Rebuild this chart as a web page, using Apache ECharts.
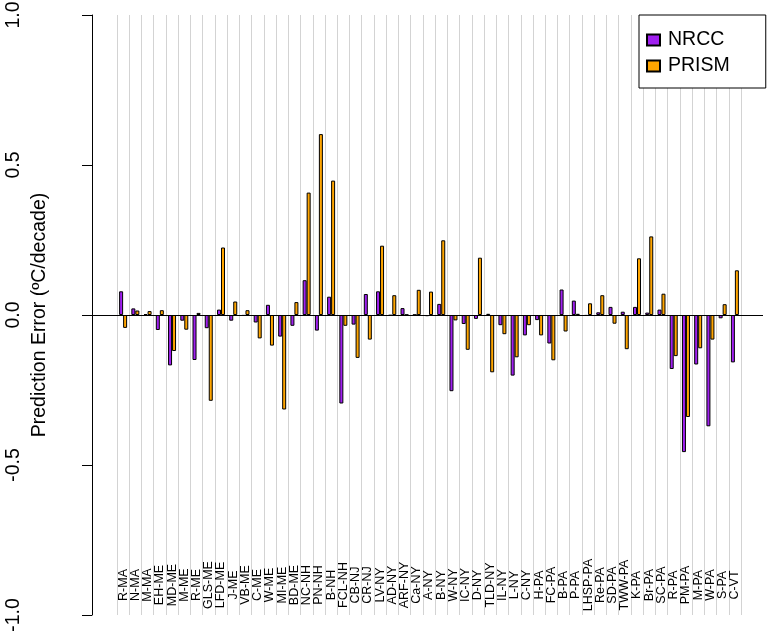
<!DOCTYPE html>
<html>
<head>
<meta charset="utf-8">
<script src="https://cdn.jsdelivr.net/npm/echarts@6/dist/echarts.min.js"></script>
<style>
html,body{margin:0;padding:0;background:#fff;}
#chart{width:768px;height:636px;}
</style>
</head>
<body>
<div id="chart"></div>
<script>
const categories = ["R-MA","N-MA","M-MA","EH-ME","MD-ME","M-ME","R-ME","GLS-ME","LFD-ME","J-ME","VB-ME","C-ME","W-ME","MI-ME","BD-ME","NC-NH","PN-NH","B-NH","FCL-NH","CB-NJ","CR-NJ","LV-NY","AD-NY","ARF-NY","Ca-NY","A-NY","B-NY","W-NY","IC-NY","D-NY","TLD-NY","IL-NY","L-NY","C-NY","H-PA","FC-PA","B-PA","P-PA","LHSP-PA","Re-PA","SD-PA","TWW-PA","K-PA","Br-PA","SC-PA","R-PA","PM-PA","M-PA","W-PA","S-PA","C-VT"];
const nrcc = [0.079,0.022,0.003,-0.050,-0.168,-0.019,-0.150,-0.044,0.018,-0.019,-0.003,-0.025,0.034,-0.072,-0.036,0.116,-0.052,0.061,-0.295,-0.032,0.070,0.079,-0.002,0.023,0.001,-0.004,0.037,-0.254,-0.030,-0.013,0.004,-0.034,-0.202,-0.068,-0.017,-0.095,0.085,0.048,-0.003,0.009,0.027,0.011,0.027,0.008,0.018,-0.180,-0.457,-0.165,-0.371,-0.011,-0.158];
const prism = [-0.043,0.015,0.013,0.016,-0.120,-0.049,0.007,-0.286,0.225,0.045,0.016,-0.078,-0.102,-0.315,0.043,0.408,0.603,0.448,-0.036,-0.143,-0.082,0.231,0.066,0.001,0.084,0.078,0.249,-0.018,-0.116,0.191,-0.191,-0.064,-0.141,-0.034,-0.068,-0.151,-0.055,0.004,0.039,0.066,-0.029,-0.114,0.189,0.262,0.071,-0.137,-0.340,-0.111,-0.082,0.036,0.149];
const seriesNames = ["NRCC","PRISM"];
const yMin = -1.0, yMax = 1.0, yStep = 0.5;
const yTitle = "Prediction Error (\u00baC/decade)";

const FONT = "Liberation Sans, Arial, Helvetica, sans-serif";
const chart = echarts.init(document.getElementById('chart'), null, {renderer:'canvas'});
const barStyle = (c) => ({color:c, borderColor:'#000', borderWidth:1});
chart.setOption({
  animation:false,
  backgroundColor:'#fff',
  textStyle:{fontFamily:FONT},
  grid:[
    {left:117, right:27, top:15, bottom:21, containLabel:false, outerBoundsMode:'none'},
    {left:92, right:5, top:15, bottom:21, containLabel:false, outerBoundsMode:'none'}
  ],
  legend:{
    data:seriesNames,
    orient:'vertical',
    left:639, top:15,
    width:126,
    padding:[15,36,12,7],
    itemGap:6,
    itemWidth:13, itemHeight:11,
    borderColor:'#000', borderWidth:1,
    backgroundColor:'#fff',
    textStyle:{fontSize:19.5, color:'#000', fontFamily:FONT, padding:[0,0,0,3]},
    icon:'rect'
  },
  xAxis:[
    {
      type:'category', gridIndex:0, data:categories, boundaryGap:true,
      axisLine:{show:false}, axisTick:{show:false},
      axisLabel:{show:true, interval:0, inside:true, rotate:90, margin:30, align:'center', verticalAlign:'middle',
        fontSize:12.5, color:'#000', fontFamily:FONT, hideOverlap:false},
      splitLine:{show:true, interval:0, lineStyle:{color:'#d3d3d3', width:1}}
    },
    {type:'value', gridIndex:1, min:0, max:1, show:false}
  ],
  yAxis:[
    {
      type:'value', gridIndex:0, min:yMin, max:yMax, interval:yStep, offset:25,
      axisLine:{show:true, lineStyle:{color:'#000', width:1}},
      axisTick:{show:true, length:10, lineStyle:{color:'#000'}},
      axisLabel:{rotate:90, margin:68, fontSize:19.5, color:'#000', fontFamily:FONT,
        formatter:(v)=>v.toFixed(1)},
      splitLine:{show:false},
      name:yTitle, nameLocation:'middle', nameRotate:90, nameGap:42, nameMoveOverlap:false,
      nameTextStyle:{fontSize:19.5, color:'#000', fontFamily:FONT}
    },
    {type:'value', gridIndex:1, min:yMin, max:yMax, show:false}
  ],
  series:[
    {name:seriesNames[0], type:'bar', xAxisIndex:0, yAxisIndex:0, data:nrcc, barWidth:4, barGap:'0%', itemStyle:barStyle('#A020F0')},
    {name:seriesNames[1], type:'bar', xAxisIndex:0, yAxisIndex:0, data:prism, barWidth:4, barGap:'0%', itemStyle:barStyle('#FFA500')},
    {type:'line', xAxisIndex:1, yAxisIndex:1, data:[], silent:true,
      markLine:{silent:true, symbol:['none','none'], label:{show:false},
        lineStyle:{color:'#000', width:1, type:'solid'}, data:[{yAxis:0}]}}
  ]
});
</script>
</body>
</html>
